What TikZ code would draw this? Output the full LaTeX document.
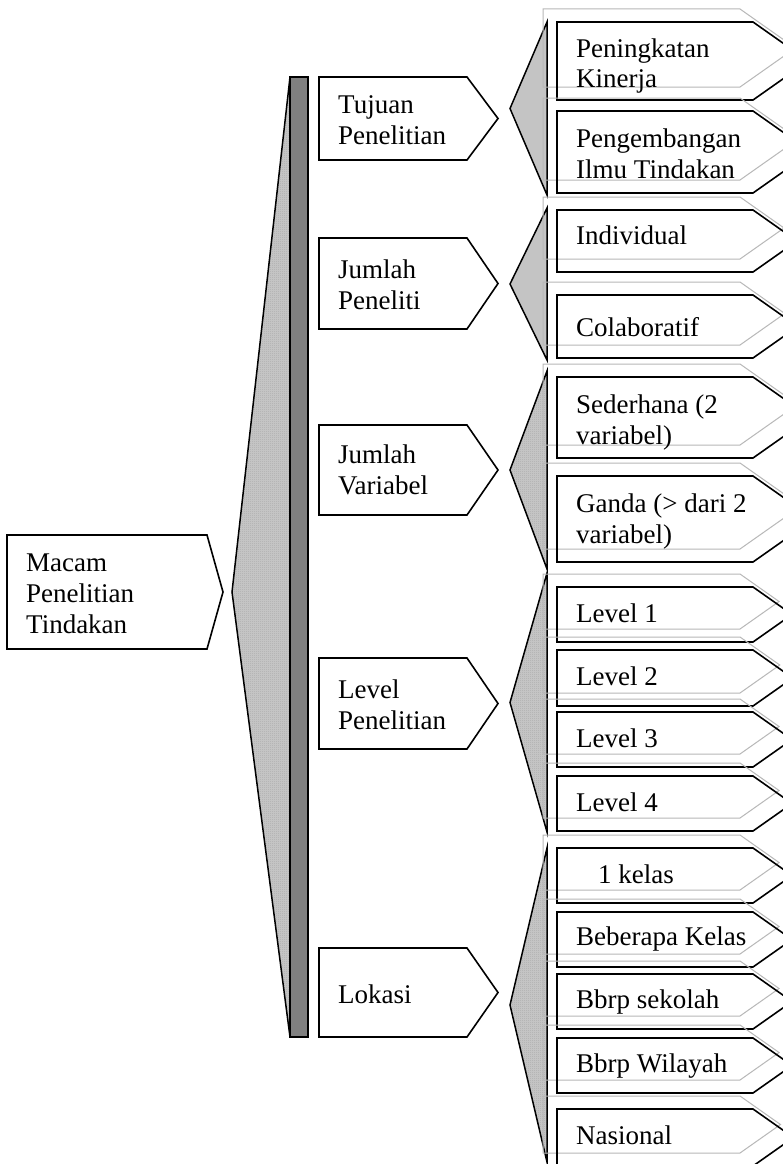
\documentclass[tikz,border=0pt]{standalone}
\usepackage{fontspec}
\setmainfont{Liberation Serif}
\usetikzlibrary{patterns.meta}

% fine stipple used inside the wedges
\tikzdeclarepattern{
  name=finedots,
  type=uncolored,
  bottom left={(0pt,0pt)},
  top right={(2.4pt,2.4pt)},
  tile size={(2.4pt,2.4pt)},
  code={\pgfpathcircle{\pgfpoint{1.2pt}{1.2pt}}{0.85pt}\pgfusepath{fill}}
}

\tikzset{
  boxline/.style={draw=black, line width=1.6pt, line join=miter},
  shadowline/.style={draw=black!28, line width=1pt},
  bracefill/.style={draw=black, line width=1.5pt, pattern=finedots, pattern color=black},
  lbl/.style={anchor=base west, inner sep=0pt, font=\fontsize{27}{31}\selectfont},
}

% stacked lines, baseline taken from the first one
\newcommand\twolines[2]{\vtop{\hbox{#1}\hbox{#2}}}
\newcommand\threelines[3]{\vtop{\hbox{#1}\hbox{#2}\hbox{#3}}}

% leaf arrow with its grey offset outline: #1 top, #2 bottom
\newcommand\leafarrow[2]{%
  \pgfmathsetmacro\leaftip{753+0.71*(#2-#1)}%
  \pgfmathsetmacro\leafmid{(#1+#2)/2}%
  \draw[shadowline] (543,#1-13) -- (740,#1-13) -- (\leaftip-13,\leafmid-13)
        -- (740,#2-13) -- (543,#2-13) -- cycle;
  \draw[boxline] (557,#1) -- (753,#1) -- (\leaftip,\leafmid)
        -- (753,#2) -- (557,#2) -- cycle;
}

% category arrow in the middle column: #1 top, #2 bottom
\newcommand\midarrow[2]{%
  \draw[boxline, fill=white] (319,#1) -- (467,#1) -- (498,{(#1+#2)/2})
        -- (467,#2) -- (319,#2) -- cycle;
}

% dotted wedge gathering a group of leaves: #1 top, #2 bottom
\newcommand\groupwedge[2]{%
  \draw[bracefill] (547,#1) -- (510,{(#1+#2)/2}) -- (547,#2) -- cycle;
}

\begin{document}
\begin{tikzpicture}[x=1pt, y=-1pt]
  \useasboundingbox (0,0) rectangle (783,1164);
  \fill[white] (0,0) rectangle (783,1164);
  \begin{scope}
  \clip (0,0) rectangle (783,1164);

  % root arrow
  \draw[boxline] (7,535) -- (207,535) -- (223,592) -- (207,649) -- (7,649) -- cycle;
  \node[lbl] (root) at (26,571) {\threelines{Macam}{Penelitian}{Tindakan}};

  % large wedge and vertical bar
  \draw[bracefill] (232,592) -- (290,77) -- (290,1037) -- cycle;
  \draw[line width=1.5pt, fill=black!50] (290,77) rectangle (308,1037);

  % middle column
  \midarrow{77}{160}
  \node[lbl] (tujuan) at (338,113) {\twolines{Tujuan}{Penelitian}};
  \midarrow{238}{329}
  \node[lbl] (peneliti) at (338,278) {\twolines{Jumlah}{Peneliti}};
  \midarrow{425}{515}
  \node[lbl] (variabel) at (338,463) {\twolines{Jumlah}{Variabel}};
  \midarrow{658}{749}
  \node[lbl] (level) at (338,698) {\twolines{Level}{Penelitian}};
  \midarrow{948}{1037}
  \node[lbl] (lokasi) at (338,1003) {Lokasi};

  % group wedges
  \groupwedge{22}{195}
  \groupwedge{208}{360}
  \groupwedge{371}{569}
  \groupwedge{573}{832}
  \groupwedge{848}{1162}

  % leaves: purpose
  \leafarrow{22}{100}
  \node[lbl] (kinerja) at (576,57) {\twolines{Peningkatan}{Kinerja}};
  \leafarrow{111}{193}
  \node[lbl] (ilmu) at (576,147) {\twolines{Pengembangan}{Ilmu Tindakan}};

  % leaves: number of researchers
  \leafarrow{210}{272}
  \node[lbl] (individual) at (576,244) {Individual};
  \leafarrow{295}{358}
  \node[lbl] (colab) at (576,336) {Colaboratif};

  % leaves: number of variables
  \leafarrow{377}{458}
  \node[lbl] (sederhana) at (576,413) {\twolines{Sederhana (2}{variabel)}};
  \leafarrow{476}{562}
  \node[lbl] (ganda) at (576,512) {\twolines{Ganda (> dari 2}{variabel)}};

  % leaves: levels
  \leafarrow{587}{642}
  \node[lbl] (lv1) at (576,622) {Level 1};
  \leafarrow{650}{706}
  \node[lbl] (lv2) at (576,685) {Level 2};
  \leafarrow{712}{767}
  \node[lbl] (lv3) at (576,747) {Level 3};
  \leafarrow{776}{831}
  \node[lbl] (lv4) at (576,811) {Level 4};

  % leaves: location
  \leafarrow{848}{903}
  \node[lbl] (kelas) at (598,883) {1 kelas};
  \leafarrow{912}{967}
  \node[lbl] (bbkelas) at (576,945) {Beberapa Kelas};
  \leafarrow{974}{1029}
  \node[lbl] (sekolah) at (576,1008) {Bbrp sekolah};
  \leafarrow{1038}{1093}
  \node[lbl] (wilayah) at (576,1072) {Bbrp Wilayah};
  \leafarrow{1109}{1166}
  \node[lbl] (nasional) at (576,1144) {Nasional};
  \end{scope}
\end{tikzpicture}
\end{document}
